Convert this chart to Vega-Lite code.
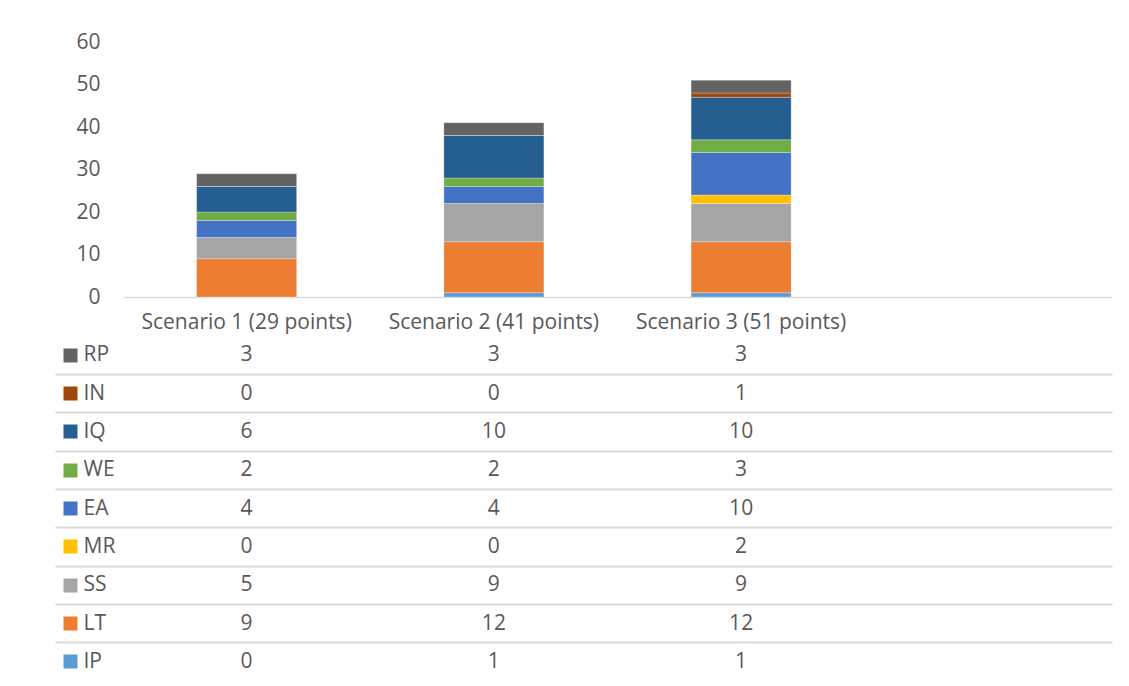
{
  "$schema": "https://vega.github.io/schema/vega-lite/v6.json",
  "padding": {"left": 56, "top": 31, "right": 10, "bottom": 0},
  "background": "white",
  "config": {
    "font": "Open Sans",
    "view": {"stroke": null},
    "axis": {"labelFont": "Open Sans", "labelColor": "#595959", "title": null, "labelLimit": 0}
  },
  "datasets": {
    "stackorder": [
      {"series": "IP", "rank": 1},
      {"series": "LT", "rank": 2},
      {"series": "SS", "rank": 3},
      {"series": "MR", "rank": 4},
      {"series": "EA", "rank": 5},
      {"series": "WE", "rank": 6},
      {"series": "IQ", "rank": 7},
      {"series": "IN", "rank": 8},
      {"series": "RP", "rank": 9}
    ]
  },
  "data": {
    "values": [
      {"scenario": "Scenario 1 (29 points)", "series": "IP", "value": 0},
      {"scenario": "Scenario 1 (29 points)", "series": "LT", "value": 9},
      {"scenario": "Scenario 1 (29 points)", "series": "SS", "value": 5},
      {"scenario": "Scenario 1 (29 points)", "series": "MR", "value": 0},
      {"scenario": "Scenario 1 (29 points)", "series": "EA", "value": 4},
      {"scenario": "Scenario 1 (29 points)", "series": "WE", "value": 2},
      {"scenario": "Scenario 1 (29 points)", "series": "IQ", "value": 6},
      {"scenario": "Scenario 1 (29 points)", "series": "IN", "value": 0},
      {"scenario": "Scenario 1 (29 points)", "series": "RP", "value": 3},
      {"scenario": "Scenario 2 (41 points)", "series": "IP", "value": 1},
      {"scenario": "Scenario 2 (41 points)", "series": "LT", "value": 12},
      {"scenario": "Scenario 2 (41 points)", "series": "SS", "value": 9},
      {"scenario": "Scenario 2 (41 points)", "series": "MR", "value": 0},
      {"scenario": "Scenario 2 (41 points)", "series": "EA", "value": 4},
      {"scenario": "Scenario 2 (41 points)", "series": "WE", "value": 2},
      {"scenario": "Scenario 2 (41 points)", "series": "IQ", "value": 10},
      {"scenario": "Scenario 2 (41 points)", "series": "IN", "value": 0},
      {"scenario": "Scenario 2 (41 points)", "series": "RP", "value": 3},
      {"scenario": "Scenario 3 (51 points)", "series": "IP", "value": 1},
      {"scenario": "Scenario 3 (51 points)", "series": "LT", "value": 12},
      {"scenario": "Scenario 3 (51 points)", "series": "SS", "value": 9},
      {"scenario": "Scenario 3 (51 points)", "series": "MR", "value": 2},
      {"scenario": "Scenario 3 (51 points)", "series": "EA", "value": 10},
      {"scenario": "Scenario 3 (51 points)", "series": "WE", "value": 3},
      {"scenario": "Scenario 3 (51 points)", "series": "IQ", "value": 10},
      {"scenario": "Scenario 3 (51 points)", "series": "IN", "value": 1},
      {"scenario": "Scenario 3 (51 points)", "series": "RP", "value": 3}
    ]
  },
  "resolve": {"scale": {"x": "independent", "y": "independent", "color": "independent"}},
  "spacing": 4,
  "vconcat": [
    {
      "width": 989,
      "height": 255,
      "transform": [
        {"lookup": "series", "from": {"data": {"name": "stackorder"}, "key": "series", "fields": ["rank"]}}
      ],
      "mark": {"type": "bar", "stroke": "white", "strokeWidth": 0.5, "strokeOpacity": 0.5},
      "encoding": {
        "x": {
          "field": "scenario",
          "type": "nominal",
          "scale": {
            "type": "band",
            "domain": ["Scenario 1 (29 points)", "Scenario 2 (41 points)", "Scenario 3 (51 points)", " "],
            "paddingInner": 0.5955,
            "paddingOuter": 0.2978
          },
          "axis": {
            "labelAngle": 0,
            "labelFontSize": 21,
            "labelPadding": 14,
            "ticks": false,
            "domainColor": "#d9d9d9",
            "domainWidth": 1.5,
            "grid": false
          }
        },
        "y": {
          "field": "value",
          "type": "quantitative",
          "aggregate": "sum",
          "stack": "zero",
          "scale": {"domain": [0, 60], "nice": false},
          "axis": {
            "values": [0, 10, 20, 30, 40, 50, 60],
            "labelFontSize": 21,
            "labelPadding": 23,
            "ticks": false,
            "domain": false,
            "grid": false
          }
        },
        "order": {"field": "rank", "type": "quantitative", "sort": "ascending"},
        "color": {
          "field": "series",
          "type": "nominal",
          "scale": {
            "domain": ["IP", "LT", "SS", "MR", "EA", "WE", "IQ", "IN", "RP"],
            "range": ["#5B9BD5", "#ED7D31", "#A5A5A5", "#FFC000", "#4472C4", "#70AD47", "#255E91", "#9E480E", "#636363"]
          },
          "legend": null
        }
      }
    },
    {
      "width": 989,
      "height": 345,
      "resolve": {"axis": {"y": "independent"}},
      "encoding": {
        "x": {
          "field": "scenario",
          "type": "nominal",
          "scale": {
            "type": "band",
            "domain": ["Scenario 1 (29 points)", "Scenario 2 (41 points)", "Scenario 3 (51 points)", " "],
            "range": [-68, 989],
            "paddingInner": 0,
            "paddingOuter": 0.1375,
            "align": 1
          },
          "axis": null
        }
      },
      "layer": [
        {
          "mark": {"type": "text", "fontSize": 21, "color": "#595959", "font": "Open Sans"},
          "encoding": {
            "y": {
              "field": "series",
              "type": "nominal",
              "scale": {"type": "band", "domain": ["RP", "IN", "IQ", "WE", "EA", "MR", "SS", "LT", "IP"], "paddingInner": 0, "paddingOuter": 0},
              "axis": {
                "orient": "left",
                "offset": 46,
                "domain": false,
                "grid": false,
                "ticks": true,
                "tickSize": 14,
                "tickWidth": 14,
                "tickColor": {
                  "condition": [
                    {"test": "datum.value === 'RP'", "value": "#636363"},
                    {"test": "datum.value === 'IN'", "value": "#9E480E"},
                    {"test": "datum.value === 'IQ'", "value": "#255E91"},
                    {"test": "datum.value === 'WE'", "value": "#70AD47"},
                    {"test": "datum.value === 'EA'", "value": "#4472C4"},
                    {"test": "datum.value === 'MR'", "value": "#FFC000"},
                    {"test": "datum.value === 'SS'", "value": "#A5A5A5"},
                    {"test": "datum.value === 'LT'", "value": "#ED7D31"}
                  ],
                  "value": "#5B9BD5"
                },
                "labelAlign": "left",
                "labelPadding": -20,
                "labelFontSize": 21
              }
            },
            "text": {"field": "value", "type": "quantitative"}
          }
        },
        {
          "mark": {"type": "text", "opacity": 0},
          "encoding": {
            "y": {
              "field": "series",
              "type": "nominal",
              "axis": {
                "orient": "left",
                "bandPosition": 1,
                "labels": false,
                "ticks": false,
                "domain": false,
                "grid": true,
                "gridColor": "#d9d9d9",
                "gridWidth": 2,
                "gridOpacity": {"condition": {"test": "datum.value === 'IP'", "value": 0}, "value": 1}
              }
            },
            "text": {"field": "value", "type": "quantitative"}
          }
        }
      ]
    }
  ]
}
